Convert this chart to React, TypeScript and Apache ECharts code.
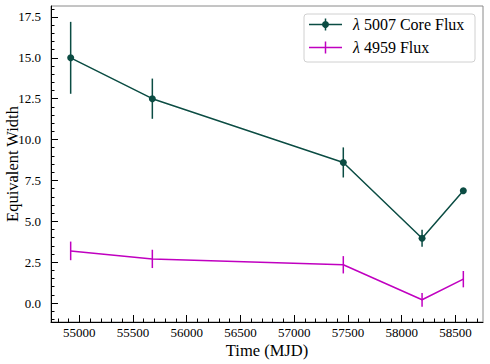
import React, { useEffect, useRef } from "react";
import * as echarts from "echarts";

const xValues = [54920, 55680, 57457, 58190, 58574];
const coreFlux = [15.0, 12.5, 8.6, 3.96, 6.87];
const coreErr = [2.2, 1.23, 0.92, 0.52, 0.12];
const flux4959 = [3.19, 2.7, 2.34, 0.2, 1.46];
const flux4959Err = [0.57, 0.56, 0.53, 0.42, 0.5];

const xMajorTicks = [55000, 55500, 56000, 56500, 57000, 57500, 58000, 58500];
const yMajorTicks = [0, 2.5, 5, 7.5, 10, 12.5, 15, 17.5];

const X_MIN = 54737;
const X_MAX = 58757;
const Y_MIN = -1.16;
const Y_MAX = 18.17;

const xMinorTicks: number[] = [];
for (let v = 54800; v <= 58700; v += 100) xMinorTicks.push(v);
const yMinorTicks: number[] = [];
for (let v = -1; v <= 18; v += 0.5) yMinorTicks.push(v);

const DARK = "#0b4c43";
const MAG = "#c000c0";
const FONT = "'Liberation Serif', serif";

function errSeries(name: string, xs: number[], ys: number[], es: number[], color: string) {
  return {
    name,
    type: "custom",
    xAxisIndex: 0,
    yAxisIndex: 0,
    encode: { x: 0, y: 1 },
    data: xs.map((x, i) => [x, ys[i], es[i]]),
    renderItem: (params: any, api: any) => {
      const x = api.value(0);
      const y = api.value(1);
      const e = api.value(2);
      const p1 = api.coord([x, y - e]);
      const p2 = api.coord([x, y + e]);
      return {
        type: "line",
        shape: { x1: p1[0], y1: p1[1], x2: p2[0], y2: p2[1] },
        style: { stroke: color, lineWidth: 1.5 },
      };
    },
    z: 3,
  };
}

export default function App() {
  const ref = useRef<HTMLDivElement>(null);
  useEffect(() => {
    if (!ref.current) return;
    const chart = echarts.init(ref.current, undefined, { renderer: "svg" });
    const axisCommonX = { type: "value", min: X_MIN, max: X_MAX, position: "bottom", splitLine: { show: false } };
    const axisCommonY = { type: "value", min: Y_MIN, max: Y_MAX, position: "left", splitLine: { show: false } };
    const labelRich = { a: { fontFamily: FONT, fontSize: 13, color: "#000" } };
    chart.setOption({
      animation: false,
      backgroundColor: "#ffffff",
      textStyle: { fontFamily: FONT },
      grid: {
        left: 51,
        right: 7,
        top: 6,
        bottom: 42,
        containLabel: false,
        outerBoundsMode: "none",
        show: true,
        borderColor: "#8a8a8a",
        borderWidth: 1,
        backgroundColor: "transparent",
      },
      xAxis: [
        {
          ...axisCommonX,
          axisLine: { show: true, onZero: false, lineStyle: { color: "#000", width: 1 } },
          axisTick: { show: true, inside: true, length: 7, customValues: xMajorTicks, lineStyle: { color: "#000", width: 1 } },
          axisLabel: {
            show: true,
            customValues: xMajorTicks,
            margin: 4,
            fontFamily: FONT,
            fontSize: 13,
            color: "#000",
            rich: labelRich,
            formatter: (v: number) => `{a|${v}}`,
          },
          name: "Time (MJD)",
          nameLocation: "middle",
          nameGap: 20,
          nameMoveOverlap: false,
          nameTextStyle: { fontFamily: FONT, fontSize: 16.5, color: "#000", verticalAlign: "top" },
        },
        {
          ...axisCommonX,
          axisLine: { show: false, onZero: false },
          axisTick: { show: true, inside: true, length: 3.5, customValues: xMinorTicks, lineStyle: { color: "#000", width: 1 } },
          axisLabel: { show: false },
        },
      ],
      yAxis: [
        {
          ...axisCommonY,
          axisLine: { show: true, onZero: false, lineStyle: { color: "#000", width: 1 } },
          axisTick: { show: true, inside: true, length: 7, customValues: yMajorTicks, lineStyle: { color: "#000", width: 1 } },
          axisLabel: {
            show: true,
            customValues: yMajorTicks,
            margin: 10,
            fontFamily: FONT,
            fontSize: 13,
            color: "#000",
            rich: labelRich,
            formatter: (v: number) => `{a|${v.toFixed(1)}}`,
          },
          name: "Equivalent Width",
          nameLocation: "middle",
          nameGap: 30,
          nameRotate: 90,
          nameMoveOverlap: false,
          nameTextStyle: { fontFamily: FONT, fontSize: 16.5, color: "#000" },
        },
        {
          ...axisCommonY,
          axisLine: { show: false, onZero: false },
          axisTick: { show: true, inside: true, length: 3.5, customValues: yMinorTicks, lineStyle: { color: "#000", width: 1 } },
          axisLabel: { show: false },
        },
      ],
      series: [
        {
          name: "λ 5007 Core Flux",
          type: "line",
          xAxisIndex: 0,
          yAxisIndex: 0,
          data: xValues.map((x, i) => [x, coreFlux[i]]),
          symbol: "circle",
          symbolSize: 7,
          lineStyle: { color: DARK, width: 1.5 },
          itemStyle: { color: DARK },
          z: 4,
        },
        errSeries("core err", xValues, coreFlux, coreErr, DARK),
        {
          name: "λ 4959 Flux",
          type: "line",
          xAxisIndex: 0,
          yAxisIndex: 0,
          data: xValues.map((x, i) => [x, flux4959[i]]),
          symbol: "none",
          lineStyle: { color: MAG, width: 1.5 },
          itemStyle: { color: MAG },
          z: 4,
        },
        errSeries("4959 err", xValues, flux4959, flux4959Err, MAG),
      ],
      graphic: [
        {
          type: "rect",
          shape: { x: 304, y: 14, width: 171, height: 48, r: 3 },
          style: { fill: "rgba(255,255,255,0.8)", stroke: "#d0d0d0", lineWidth: 1 },
          z: 10,
        },
        { type: "line", shape: { x1: 309, y1: 24.5, x2: 342, y2: 24.5 }, style: { stroke: DARK, lineWidth: 1.5 }, z: 11 },
        { type: "line", shape: { x1: 325.5, y1: 18.5, x2: 325.5, y2: 30.5 }, style: { stroke: DARK, lineWidth: 1.5 }, z: 11 },
        { type: "circle", shape: { cx: 325.5, cy: 24.5, r: 3.5 }, style: { fill: DARK }, z: 11 },
        { type: "line", shape: { x1: 309, y1: 47.5, x2: 342, y2: 47.5 }, style: { stroke: MAG, lineWidth: 1.5 }, z: 11 },
        { type: "line", shape: { x1: 325.5, y1: 41.5, x2: 325.5, y2: 53.5 }, style: { stroke: MAG, lineWidth: 1.5 }, z: 11 },
        {
          type: "text",
          x: 353,
          y: 24.5,
          style: {
            text: "{i|λ} 5007 Core Flux",
            fontFamily: FONT,
            fontSize: 16,
            fill: "#000",
            verticalAlign: "middle",
            rich: { i: { fontStyle: "italic", fontFamily: FONT, fontSize: 16 } },
          },
          z: 11,
        },
        {
          type: "text",
          x: 353,
          y: 47.5,
          style: {
            text: "{i|λ} 4959 Flux",
            fontFamily: FONT,
            fontSize: 16,
            fill: "#000",
            verticalAlign: "middle",
            rich: { i: { fontStyle: "italic", fontFamily: FONT, fontSize: 16 } },
          },
          z: 11,
        },
      ],
    });
    return () => chart.dispose();
  }, []);
  return <div ref={ref} style={{ position: "fixed", left: 0, top: 0, width: 490, height: 364 }} />;
}
